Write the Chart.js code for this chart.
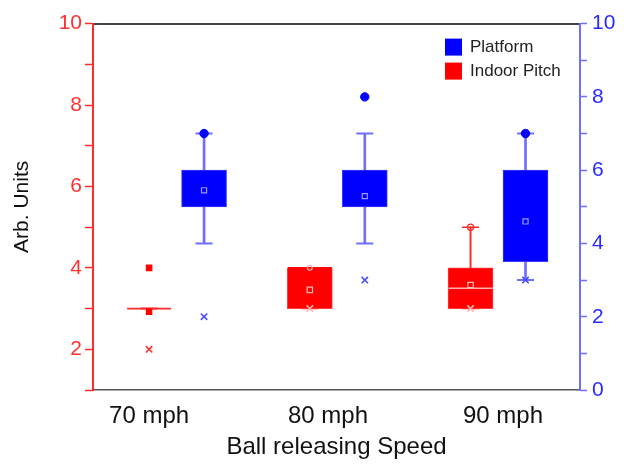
<!DOCTYPE html>
<html>
<head>
<meta charset="utf-8">
<script src="https://cdn.jsdelivr.net/npm/chart.js@4/dist/chart.umd.min.js"></script>
<style>
  html, body { margin: 0; padding: 0; background: #ffffff; }
  #wrap { width: 624px; height: 464px; }
</style>
</head>
<body>
<div id="wrap"><canvas id="c" width="624" height="464"></canvas></div>
<script>
// ---------- data ----------
const categories = ['70 mph', '80 mph', '90 mph'];
const seriesNames = ['Platform', 'Indoor Pitch'];
const yLeftTicks = [2, 4, 6, 8, 10];
const yRightTicks = [0, 2, 4, 6, 8, 10];

// Platform (right axis)
const platformQ1 = [5, 5, 3.5];
const platformQ3 = [6, 6, 6];
const platformMean = [5.45, 5.29, 4.6];
const platformWhiskerLow = [4, 4, 3];
const platformWhiskerHigh = [7, 7, 7];
const platformMax = [7, 8, 7];
const platformCross = [2, 3, 3];

// Indoor Pitch (left axis)
const indoorQ1 = [3, 3, 3];
const indoorQ3 = [3, 4, 4];
const indoorMedian = [3, 4, 3.5];
const indoorMean = [2.92, 3.46, 3.58];
const indoorWhiskerLow = [3, 3, 3];
const indoorWhiskerHigh = [3, 4, 5];
const indoorMax = [4, 4, 5];
const indoorCross = [2, 3, 3];

// ---------- layout / style ----------
const FONT = "'Liberation Sans', Arial, Helvetica, sans-serif";
const BLUE = '#0000ff', BLUE_LINE = '#6f6fff', BLUE_TEXT = '#2a2aff';
const RED = '#ff0000', RED_LINE = '#ff2a2a', RED_TEXT = '#ff3030';
const indoorOffset = -0.171, platformOffset = 0.171;
const labelPositions = [-0.171, 0.942, 2.031];
const X_MIN = -0.52, X_MAX = 2.51;

const pts = (vals, off) => vals.map((v, i) => ({ x: i + off, y: v }));
const rng = (lo, hi, off) => lo.map((v, i) => ({ x: i + off, y: [v, hi[i]] }));
const caps = (lo, hi, off) => pts(lo, off).concat(pts(hi, off));

const datasets = [
  // markers (top)
  { type: 'scatter', label: 'pMax', yAxisID: 'yR', order: 0, data: pts(platformMax, platformOffset),
    pointStyle: 'circle', pointRadius: 4.2, backgroundColor: BLUE, borderColor: BLUE, borderWidth: 1 },
  { type: 'scatter', label: 'pCross', yAxisID: 'yR', order: 0, data: pts(platformCross, platformOffset),
    pointStyle: 'crossRot', pointRadius: 4.5, borderColor: '#4a4aff', borderWidth: 1.6 },
  { type: 'scatter', label: 'pMean', yAxisID: 'yR', order: 0, data: pts(platformMean, platformOffset),
    pointStyle: 'rect', pointRadius: 3.6, backgroundColor: 'rgba(0,0,0,0)', borderColor: '#9a9aff', borderWidth: 1.2 },
  { type: 'scatter', label: 'iMax', yAxisID: 'yL', order: 0, data: pts(indoorMax, indoorOffset),
    pointStyle: ['rect', 'circle', 'circle'], pointRadius: [3.8, 2.4, 3],
    backgroundColor: [RED, 'rgba(0,0,0,0)', 'rgba(0,0,0,0)'], borderColor: [RED, '#ffb0b0', RED_LINE], borderWidth: 1.2 },
  { type: 'scatter', label: 'iCross', yAxisID: 'yL', order: 0, data: pts(indoorCross, indoorOffset),
    pointStyle: 'crossRot', pointRadius: 4.5, borderColor: ['#ff3030', '#ffb0b0', '#ffb0b0'], borderWidth: 1.6 },
  { type: 'scatter', label: 'iMean', yAxisID: 'yL', order: 0, data: pts(indoorMean, indoorOffset),
    pointStyle: 'rect', pointRadius: 3.8,
    backgroundColor: (c) => (indoorQ1[c.dataIndex] === indoorQ3[c.dataIndex] ? RED : 'rgba(0,0,0,0)'),
    borderColor: (c) => (indoorQ1[c.dataIndex] === indoorQ3[c.dataIndex] ? RED : '#ffb8b8'), borderWidth: 1.2 },
  // medians
  { type: 'scatter', label: 'iMedian', yAxisID: 'yL', order: 1, data: pts(indoorMedian, indoorOffset),
    pointStyle: 'line', pointRadius: 22,
    borderColor: (c) => {
      const i = c.dataIndex, m = indoorMedian[i];
      if (indoorQ1[i] === indoorQ3[i]) return RED_LINE;
      return (m > indoorQ1[i] && m < indoorQ3[i]) ? '#ffb0b0' : RED;
    }, borderWidth: 1.6 },
  // whisker caps
  { type: 'scatter', label: 'pCaps', yAxisID: 'yR', order: 2, data: caps(platformWhiskerLow, platformWhiskerHigh, platformOffset),
    pointStyle: 'line', pointRadius: 8.5, borderColor: BLUE_LINE, borderWidth: 2 },
  { type: 'scatter', label: 'iCaps', yAxisID: 'yL', order: 2, data: caps(indoorWhiskerLow, indoorWhiskerHigh, indoorOffset),
    pointStyle: 'line', pointRadius: 8.5, borderColor: RED_LINE, borderWidth: 1.5 },
  // boxes
  { type: 'bar', label: seriesNames[0], yAxisID: 'yR', order: 3, grouped: false, barThickness: 45,
    data: rng(platformQ1, platformQ3, platformOffset), backgroundColor: BLUE, borderColor: '#3a3aff', borderWidth: 1, borderSkipped: false },
  { type: 'bar', label: seriesNames[1], yAxisID: 'yL', order: 3, grouped: false, barThickness: 45,
    data: rng(indoorQ1, indoorQ3, indoorOffset), backgroundColor: RED, borderColor: '#ff3a3a', borderWidth: 1, borderSkipped: false },
  // whiskers
  { type: 'bar', label: 'pWhisk', yAxisID: 'yR', order: 4, grouped: false, barThickness: 2,
    data: rng(platformWhiskerLow, platformWhiskerHigh, platformOffset), backgroundColor: BLUE_LINE, borderWidth: 0 },
  { type: 'bar', label: 'iWhisk', yAxisID: 'yL', order: 4, grouped: false, barThickness: 1.3,
    data: rng(indoorWhiskerLow, indoorWhiskerHigh, indoorOffset), backgroundColor: RED_LINE, borderWidth: 0 }
];

const legendPlugin = {
  id: 'boxLegend',
  afterDatasetsDraw(chart) {
    const { ctx, chartArea } = chart;
    const items = [{ text: seriesNames[0], color: BLUE }, { text: seriesNames[1], color: RED }];
    const x0 = chartArea.right - 135, y0 = chartArea.top + 15;
    ctx.save();
    ctx.font = '17px ' + FONT;
    ctx.textBaseline = 'middle';
    items.forEach((it, i) => {
      const y = y0 + i * 24;
      ctx.fillStyle = it.color;
      ctx.fillRect(x0, y, 17, 17);
      ctx.fillStyle = '#222';
      ctx.fillText(it.text, x0 + 25, y + 9);
    });
    ctx.restore();
  }
};

new Chart(document.getElementById('c'), {
  type: 'bar',
  data: { datasets },
  plugins: [legendPlugin],
  options: {
    responsive: false,
    animation: false,
    events: [],
    layout: { padding: 0 },
    plugins: { legend: { display: false }, tooltip: { enabled: false } },
    scales: {
      x: {
        type: 'linear', position: 'bottom', min: X_MIN, max: X_MAX, offset: false,
        afterFit: (s) => { s.height = 74; },
        afterBuildTicks: (s) => { s.ticks = labelPositions.map(v => ({ value: v })); },
        grid: { display: false, drawTicks: false },
        border: { display: true, color: '#555', width: 1.5 },
        ticks: { autoSkip: false, maxRotation: 0, padding: 12, color: '#111',
                 font: { family: FONT, size: 24 }, callback: (v, i) => categories[i] },
        title: { display: true, text: 'Ball releasing Speed', color: '#111',
                 font: { family: FONT, size: 24 }, padding: { top: 0, bottom: 2 } }
      },
      xTop: {
        type: 'linear', position: 'top', min: X_MIN, max: X_MAX, offset: false,
        afterFit: (s) => { s.height = 17; },
        grid: { display: false, drawTicks: false },
        border: { display: true, color: '#444', width: 2 },
        ticks: { display: false }
      },
      yL: {
        type: 'linear', position: 'left', min: 1, max: 10,
        afterFit: (s) => { s.width = 93; },
        afterBuildTicks: (s) => { s.ticks = [1,2,3,4,5,6,7,8,9,10].map(v => ({ value: v })); },
        grid: { display: true, drawOnChartArea: false, drawTicks: true, tickLength: 8, tickWidth: 1.5, tickColor: RED_LINE, color: RED_LINE },
        border: { display: true, color: RED_LINE, width: 2 },
        ticks: { padding: 3, color: RED_TEXT, font: { family: FONT, size: 21 },
                 callback: (v) => (yLeftTicks.includes(v) ? String(v) : '') },
        title: { display: true, text: 'Arb. Units', color: '#111',
                 font: { family: FONT, size: 21 }, padding: { top: 10, bottom: 0 } }
      },
      yR: {
        type: 'linear', position: 'right', min: 0, max: 10,
        afterFit: (s) => { s.width = 44; },
        afterBuildTicks: (s) => { s.ticks = [0,1,2,3,4,5,6,7,8,9,10].map(v => ({ value: v })); },
        grid: { display: true, drawOnChartArea: false, drawTicks: true, tickLength: 7, tickWidth: 1.5, tickColor: BLUE_LINE, color: BLUE_LINE },
        border: { display: true, color: BLUE_LINE, width: 2 },
        ticks: { padding: 5, color: BLUE_TEXT, font: { family: FONT, size: 21 },
                 callback: (v) => (yRightTicks.includes(v) ? String(v) : '') }
      }
    }
  }
});
</script>
</body>
</html>
